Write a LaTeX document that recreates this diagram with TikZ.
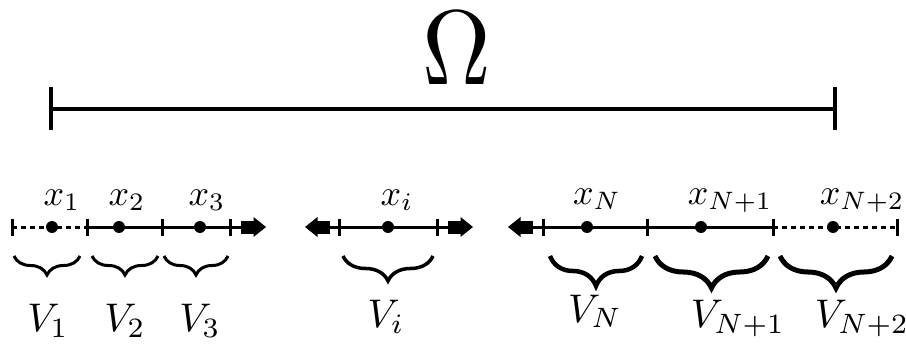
\documentclass[tikz,border=0pt]{standalone}
\usetikzlibrary{decorations.pathreplacing}
\newcommand{\xsz}[1]{\scalebox{3.6}{$#1$}}
\newcommand{\vsz}[1]{\scalebox{4.0}{$#1$}}
\tikzset{
  axis/.style={line width=3pt},
  dashaxis/.style={line width=3pt, dash pattern=on 5pt off 4pt},
  tick/.style={line width=3pt},
  pt/.style={circle, fill, inner sep=0pt, minimum size=12pt},
  xlab/.style={anchor=base, inner sep=0pt},
  vlab/.style={anchor=base, inner sep=0pt},
  bracesty/.style={decorate, line width=3pt, decoration={brace, mirror, amplitude=#1}},
  fatarrow/.pic={\fill (-1,-6.5) rectangle (12,6.5); \fill (11.5,-10) -- (24,0) -- (11.5,10) -- cycle;}
}
\begin{document}
\begin{tikzpicture}[x=1pt, y=-1pt]
\useasboundingbox (0,0) rectangle (906,345);
% Omega bar
\node[inner sep=0pt] (omega) at (457,48) {\scalebox{9.5}[10.6]{$\Omega$}};
\coordinate (oL) at (51,109); \coordinate (oR) at (835,109);
\draw[line width=3.4pt] (oL) -- (oR);
\draw[line width=4.5pt] ([yshift=-21pt]oL) -- ([yshift=22pt]oL);
\draw[line width=4.5pt] ([yshift=-21pt]oR) -- ([yshift=22pt]oR);

% left group
\foreach \n/\x in {a1/12, a2/87, a3/162, a4/230} \coordinate (\n) at (\x,227);
\coordinate (aend) at (242,227);
\draw[dashaxis] (a1) -- (a2);
\draw[axis] (a2) -- (aend);
\foreach \n in {a1,a2,a3,a4} \draw[tick] ([yshift=-8.5pt]\n) -- ([yshift=8.5pt]\n);
\pic at (aend) {fatarrow};
\node[pt] (x1) at (52,227) {};
\node[pt] (x2) at (119,227) {};
\node[pt] (x3) at (200,227) {};
\node[xlab] (lx1) at (62,205) {\xsz{x_1}};
\node[xlab] (lx2) at (127,205) {\xsz{x_2}};
\node[xlab] (lx3) at (207,205) {\xsz{x_3}};
\coordinate (b1s) at (14,256); \coordinate (b1e) at (80,256);
\coordinate (b2s) at (92,256); \coordinate (b2e) at (158,256);
\coordinate (b3s) at (164,256); \coordinate (b3e) at (228,256);
\draw[bracesty=19pt] (b1s) -- (b1e);
\draw[bracesty=19pt] (b2s) -- (b2e);
\draw[bracesty=19pt] (b3s) -- (b3e);
\node[vlab] (v1) at (48,331) {\vsz{V_1}};
\node[vlab] (v2) at (125,331) {\vsz{V_2}};
\node[vlab] (v3) at (200,331) {\vsz{V_3}};

% middle group
\coordinate (mL) at (329,227); \coordinate (mR) at (449,227);
\coordinate (m1) at (339,227); \coordinate (m2) at (437,227);
\draw[axis] (mL) -- (mR);
\foreach \n in {m1,m2} \draw[tick] ([yshift=-8.5pt]\n) -- ([yshift=8.5pt]\n);
\pic[xscale=-1] at (mL) {fatarrow};
\pic at (mR) {fatarrow};
\node[pt] (xi) at (388,227) {};
\node[xlab] (lxi) at (397,205) {\xsz{x_i}};
\coordinate (bis) at (343,256); \coordinate (bie) at (433,256);
\draw[bracesty=25pt, line width=3.5pt] (bis) -- (bie);
\node[vlab] (vi) at (386,327) {\vsz{V_i}};

% right group
\coordinate (rL) at (532,227);
\foreach \n/\x in {r1/543, r2/647, r3/773, r4/897} \coordinate (\n) at (\x,227);
\draw[axis] (rL) -- (r3);
\draw[dashaxis] (r3) -- (r4);
\foreach \n in {r1,r2,r3,r4} \draw[tick] ([yshift=-8.5pt]\n) -- ([yshift=8.5pt]\n);
\pic[xscale=-1] at (rL) {fatarrow};
\node[pt] (xN) at (587,227) {};
\node[pt] (xN1) at (701,227) {};
\node[pt] (xN2) at (833,227) {};
\node[xlab] (lxN) at (597,204) {\xsz{x_N}};
\node[xlab] (lxN1) at (730,204) {\xsz{x_{N+1}}};
\node[xlab] (lxN2) at (862,204) {\xsz{x_{N+2}}};
\coordinate (bNs) at (550,256); \coordinate (bNe) at (642,256);
\coordinate (bN1s) at (655,256); \coordinate (bN1e) at (768,256);
\coordinate (bN2s) at (780,256); \coordinate (bN2e) at (892,256);
\draw[bracesty=30pt, line width=4.5pt] (bNs) -- (bNe);
\draw[bracesty=32pt, line width=5pt] (bN1s) -- (bN1e);
\draw[bracesty=32pt, line width=5pt] (bN2s) -- (bN2e);
\node[vlab] (vN) at (595,322) {\vsz{V_N}};
\node[vlab] (vN1) at (738,327) {\vsz{V_{N+1}}};
\node[vlab] (vN2) at (862,327) {\vsz{V_{N+2}}};
\end{tikzpicture}
\end{document}
